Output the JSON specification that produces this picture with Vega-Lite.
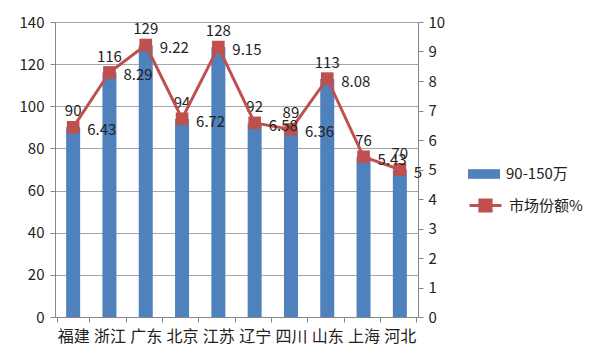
{
  "$schema": "https://vega.github.io/schema/vega-lite/v6.json",
  "width": 363,
  "height": 295,
  "autosize": {"type": "none"},
  "padding": {"left": 55, "top": 22, "right": 182, "bottom": 45},
  "background": "white",
  "config": {
    "view": {"stroke": null},
    "font": "Noto Sans CJK SC",
    "axis": {"labelFont": "Noto Sans CJK SC", "labelColor": "#222222", "domainColor": "#868686", "tickColor": "#868686", "gridColor": "#a6a6a6", "title": null}
  },
  "data": {"values": [
    {"province": "福建", "sales": 90, "share": 6.43},
    {"province": "浙江", "sales": 116, "share": 8.29},
    {"province": "广东", "sales": 129, "share": 9.22},
    {"province": "北京", "sales": 94, "share": 6.72},
    {"province": "江苏", "sales": 128, "share": 9.15},
    {"province": "辽宁", "sales": 92, "share": 6.58},
    {"province": "四川", "sales": 89, "share": 6.36},
    {"province": "山东", "sales": 113, "share": 8.08},
    {"province": "上海", "sales": 76, "share": 5.43},
    {"province": "河北", "sales": 70, "share": 5}
  ]},
  "encoding": {
    "x": {"field": "province", "type": "nominal", "sort": null,
      "axis": {"labelAngle": 0, "labelFontSize": 16, "tickBand": "extent", "tickSize": 5, "labelPadding": 6, "domainColor": "#868686"}}
  },
  "layer": [
    {
      "encoding": {
        "y": {"field": "sales", "type": "quantitative", "scale": {"domain": [0, 140], "nice": false},
          "axis": {"values": [0, 20, 40, 60, 80, 100, 120, 140], "labelFontSize": 15, "tickSize": 5, "labelPadding": 6, "grid": true, "orient": "left"}}
      },
      "layer": [
        {"mark": {"type": "bar", "size": 14},
          "encoding": {"fill": {"datum": "90-150万", "type": "nominal", "scale": {"range": ["#4f81bd"]},
            "legend": {"orient": "none", "legendX": 413, "legendY": 136, "title": null, "symbolType": "M-1,-0.3H1V0.3H-1Z", "symbolSize": 1024, "symbolStrokeWidth": 0, "labelFontSize": 15, "labelColor": "#222222", "labelOffset": 6}}}},
        {"mark": {"type": "text", "dy": -16, "fontSize": 15, "color": "#222222", "font": "Noto Sans CJK SC"},
          "encoding": {"text": {"field": "sales", "type": "quantitative"}}}
      ]
    },
    {
      "encoding": {
        "y": {"field": "share", "type": "quantitative", "scale": {"domain": [0, 10], "nice": false},
          "axis": {"values": [0, 1, 2, 3, 4, 5, 6, 7, 8, 9, 10], "labelFontSize": 15, "tickSize": 5, "labelPadding": 5, "grid": false, "orient": "right"}}
      },
      "layer": [
        {"mark": {"type": "line", "strokeWidth": 3},
          "encoding": {"stroke": {"datum": "市场份额%", "type": "nominal", "scale": {"range": ["#c0504d"]},
            "legend": {"orient": "none", "legendX": 413, "legendY": 166, "title": null, "symbolType": "M-1,0H1M-0.35,-0.35H0.35V0.35H-0.35Z", "symbolSize": 1024, "symbolStrokeWidth": 3, "symbolFillColor": "#c0504d", "labelFontSize": 15, "labelColor": "#222222", "labelOffset": 6}}}},
        {"mark": {"type": "point", "shape": "square", "filled": true, "size": 160, "color": "#c0504d", "opacity": 1}},
        {"mark": {"type": "text", "align": "left", "dx": 14, "dy": 3, "fontSize": 15, "color": "#222222", "font": "Noto Sans CJK SC"},
          "encoding": {"text": {"field": "share", "type": "quantitative"}}}
      ]
    }
  ],
  "resolve": {"scale": {"y": "independent"}}
}
